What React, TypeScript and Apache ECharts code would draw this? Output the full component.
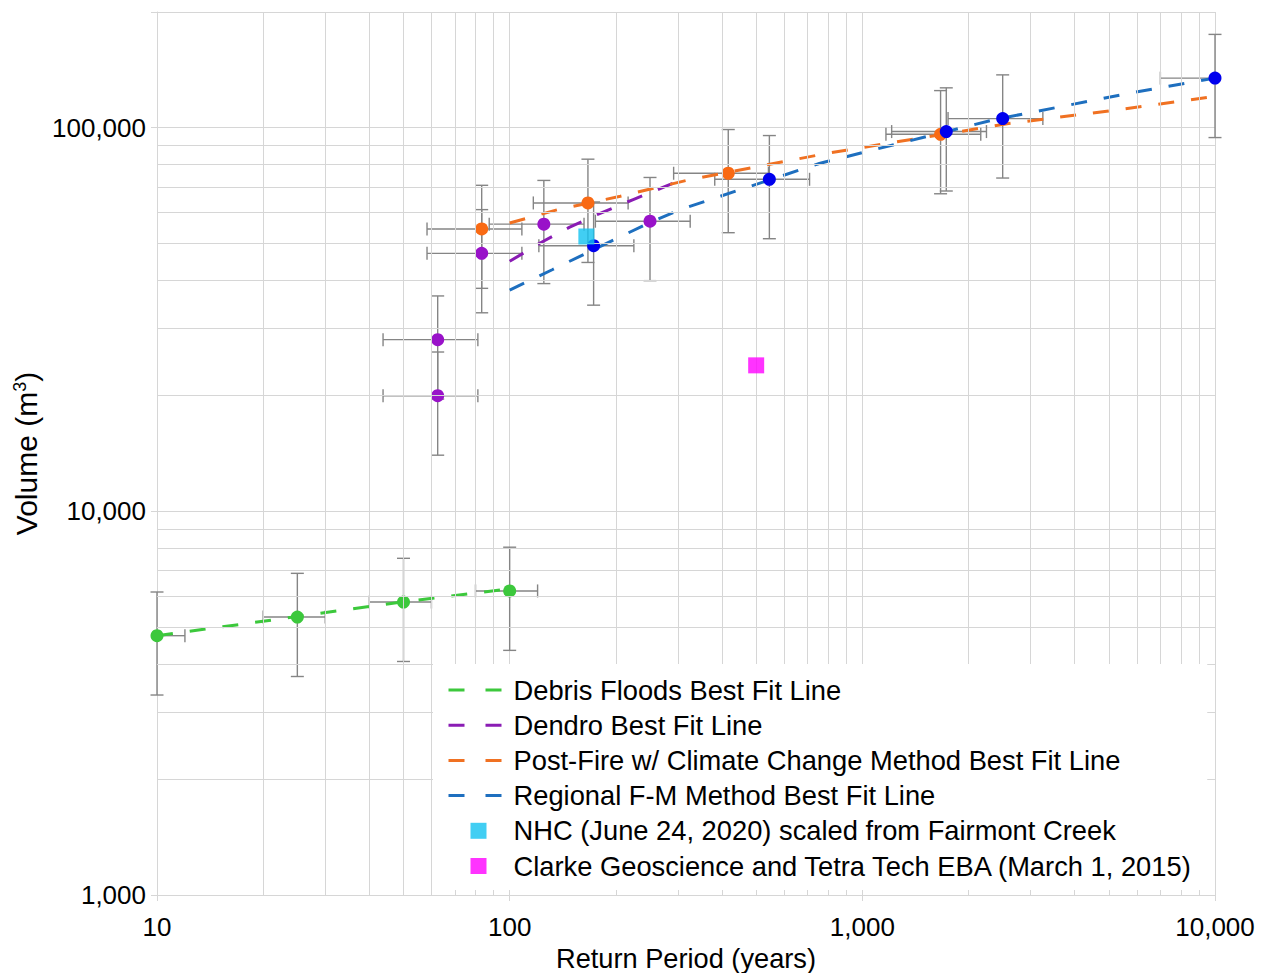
import React, { useEffect, useRef } from "react";
import * as echarts from "echarts";

const FONT = "'Liberation Sans', Arial, Helvetica, sans-serif";

// ---------- Debris floods (green) ----------
const debrisX = [10, 25, 50, 100];
const debrisY = [4740, 5300, 5800, 6200];
const debrisXLow = [8, 20, 40, 80];
const debrisXHigh = [12, 30, 60, 120];
const debrisYLow = [3320, 3710, 4060, 4340];
const debrisYHigh = [6160, 6890, 7540, 8060];
const debrisFitX = [10, 18, 50, 100];
const debrisFitY = [4740, 5100, 5810, 6280];

// ---------- Dendro (purple) ----------
const dendroX = [62.5, 62.5, 83.3, 125, 250];
const dendroY = [28000, 20000, 47000, 56000, 57000];
const dendroXLow = [43.75, 43.75, 58.3, 87.5, 175];
const dendroXHigh = [81.25, 81.25, 108.3, 162.5, 325];
const dendroYLow = [19600, 14000, 32900, 39200, 39900];
const dendroYHigh = [36400, 26000, 61100, 72800, 74100];
const dendroFitX = [100, 122, 148, 177, 224, 300];
const dendroFitY = [44800, 50000, 55000, 59300, 64900, 72400];

// ---------- Post-fire w/ climate change (orange) ----------
const postFireX = [83.3, 166.7, 416.7, 1666.7];
const postFireY = [54400, 63600, 76000, 96000];
const postFireXLow = [58.3, 116.7, 291.7, 1166.7];
const postFireXHigh = [108.3, 216.7, 541.7, 2166.7];
const postFireYLow = [38100, 44500, 53200, 67200];
const postFireYHigh = [70700, 82700, 98800, 124800];
const postFireFitX = [100, 137, 206, 325, 809, 2600, 5230, 10000];
const postFireFitY = [56400, 61100, 66200, 73200, 85900, 102400, 111000, 120500];

// ---------- Regional F-M (blue) ----------
const regionalX = [173, 545, 1730, 2500, 10000];
const regionalY = [49200, 73300, 97600, 105500, 134500];
const regionalXLow = [121, 381.5, 1211, 1750, 7000];
const regionalXHigh = [225, 708.5, 2249, 3250, 13000];
const regionalYLow = [34440, 51310, 68320, 73850, 94150];
const regionalYHigh = [63960, 95290, 126880, 137150, 174850];
const regionalFitX = [100, 132, 250, 304, 755, 2370, 5940, 10000];
const regionalFitY = [37700, 42600, 56600, 61100, 80600, 104900, 123600, 134500];

// ---------- Single observations ----------
const nhcPoint = [165, 52000];
const clarkePoint = [500, 24000];

const legendNames = [
  "Debris Floods Best Fit Line",
  "Dendro Best Fit Line",
  "Post-Fire w/ Climate Change Method Best Fit Line",
  "Regional F-M Method Best Fit Line",
  "NHC (June 24, 2020) scaled from Fairmont Creek",
  "Clarke Geoscience and Tetra Tech EBA (March 1, 2015)",
];

const xDecades = [10, 100, 1000];
const yDecades = [1000, 10000, 100000];
const minorMultipliers = [2, 3, 4, 5, 6, 7, 8, 9];

const GRID_COLOR = "#d6d6d6";
const ERR_COLOR = "#858585";

const zip = (a: number[], b: number[]) => a.map((v, i) => [v, b[i]]);
const zipErr = (
  x: number[], y: number[], xl: number[], xh: number[], yl: number[], yh: number[]
) => x.map((v, i) => [v, y[i], xl[i], xh[i], yl[i], yh[i]]);

const fmt = (v: number) => {
  const l = Math.log10(v);
  if (Math.abs(l - Math.round(l)) > 1e-6) return "";
  return String(Math.round(v)).replace(/\B(?=(\d{3})+(?!\d))/g, ",");
};

function errorBarSeries(data: number[][]) {
  return {
    type: "custom",
    silent: true,
    z: 2,
    data,
    encode: { x: 0, y: 1 },
    renderItem: (params: any, api: any) => {
      const cs = params.coordSys;
      const left = cs.x, right = cs.x + cs.width, top = cs.y, bottom = cs.y + cs.height;
      const x = api.value(0), y = api.value(1);
      const pl = api.coord([api.value(2), y]);
      const pr = api.coord([api.value(3), y]);
      const pb = api.coord([x, api.value(4)]);
      const pt = api.coord([x, api.value(5)]);
      const c = 6.5;
      const style = { stroke: ERR_COLOR, lineWidth: 1.4, fill: null };
      const children: any[] = [];
      const hx1 = Math.max(left, pl[0]);
      const hx2 = Math.min(right, pr[0]);
      children.push({ type: "line", shape: { x1: hx1, y1: pl[1], x2: hx2, y2: pr[1] }, style });
      if (pl[0] >= left - 0.5) children.push({ type: "line", shape: { x1: pl[0], y1: pl[1] - c, x2: pl[0], y2: pl[1] + c }, style });
      if (pr[0] <= right + 0.5) children.push({ type: "line", shape: { x1: pr[0], y1: pr[1] - c, x2: pr[0], y2: pr[1] + c }, style });
      const vy1 = Math.max(top, pt[1]);
      const vy2 = Math.min(bottom, pb[1]);
      children.push({ type: "line", shape: { x1: pt[0], y1: vy1, x2: pb[0], y2: vy2 }, style });
      if (pt[1] >= top - 0.5) children.push({ type: "line", shape: { x1: pt[0] - c, y1: pt[1], x2: pt[0] + c, y2: pt[1] }, style });
      if (pb[1] <= bottom + 0.5) children.push({ type: "line", shape: { x1: pb[0] - c, y1: pb[1], x2: pb[0] + c, y2: pb[1] }, style });
      return { type: "group", children };
    },
  };
}

function fitSeries(name: string, xs: number[], ys: number[], color: string) {
  return {
    type: "line",
    name,
    data: zip(xs, ys),
    symbol: "none",
    showSymbol: false,
    silent: true,
    z: 3,
    lineStyle: { color, width: 3, type: [16, 17] },
    itemStyle: { color },
  };
}

function pointSeries(name: string, xs: number[], ys: number[], color: string) {
  return {
    type: "scatter",
    name,
    data: zip(xs, ys),
    symbol: "circle",
    symbolSize: 13,
    silent: true,
    z: 4,
    itemStyle: { color, opacity: 1 },
  };
}

export default function App() {
  const ref = useRef<HTMLDivElement>(null);

  useEffect(() => {
    if (!ref.current) return;
    const chart = echarts.init(ref.current, undefined, { renderer: "svg" });

    const minorX: any[] = [];
    xDecades.forEach((d) => minorMultipliers.forEach((m) => minorX.push({ xAxis: d * m })));
    const minorY: any[] = [];
    yDecades.forEach((d) => minorMultipliers.forEach((m) => minorY.push({ yAxis: d * m })));

    const SQUARE = "path://M0,0L10,0L10,10L0,10Z";
    const legendData = legendNames.map((name, i) =>
      i < 4 ? { name, itemStyle: { opacity: 0 } } : { name, icon: SQUARE }
    );

    const option: any = {
      animation: false,
      backgroundColor: "#ffffff",
      textStyle: { fontFamily: FONT },
      grid: { left: 157, right: 52, top: 12, bottom: 78, containLabel: false, outerBoundsMode: "none" },
      xAxis: {
        type: "log",
        logBase: 10,
        min: 10,
        max: 10000,
        name: "Return Period (years)",
        nameLocation: "middle",
        nameGap: 50,
        nameTextStyle: { fontSize: 27.2, color: "#000", fontFamily: FONT },
        axisLine: { show: true, lineStyle: { color: GRID_COLOR, width: 1 } },
        axisTick: { show: true, length: 6, lineStyle: { color: GRID_COLOR } },
        axisLabel: { fontSize: 26, color: "#000", fontFamily: FONT, margin: 19, formatter: fmt },
        splitLine: { show: true, lineStyle: { color: GRID_COLOR, width: 1 } },
      },
      yAxis: {
        type: "log",
        logBase: 10,
        min: 1000,
        max: 200000,
        name: "Volume (m{sup|3})",
        nameLocation: "middle",
        nameGap: 112,
        nameRotate: 90,
        nameTextStyle: {
          fontSize: 30,
          lineHeight: 30,
          color: "#000",
          fontFamily: FONT,
          rich: {
            sup: { fontSize: 18, lineHeight: 18, verticalAlign: "top", color: "#000", fontFamily: FONT },
          },
        },
        axisLine: { show: true, lineStyle: { color: GRID_COLOR, width: 1 } },
        axisTick: { show: true, length: 6, lineStyle: { color: GRID_COLOR } },
        axisLabel: { fontSize: 26, color: "#000", fontFamily: FONT, margin: 11, formatter: fmt },
        splitLine: { show: true, lineStyle: { color: GRID_COLOR, width: 1 } },
      },
      legend: {
        data: legendData,
        orient: "vertical",
        left: 433,
        top: 664,
        backgroundColor: "#ffffff",
        padding: [11, 14, 9, 14],
        itemWidth: 60,
        itemHeight: 16,
        itemGap: 5.2,
        selectedMode: false,
        z: 10,
        textStyle: { fontSize: 27.3, color: "#000", fontFamily: FONT, lineHeight: 30 },
        lineStyle: { width: 3, type: [16, 21] },
      },
      series: [
        {
          type: "line",
          name: "minor-grid",
          data: [],
          silent: true,
          z: 1,
          markLine: {
            silent: true,
            symbol: ["none", "none"],
            label: { show: false },
            lineStyle: { color: GRID_COLOR, width: 1, type: "solid" },
            emphasis: { disabled: true },
            data: [...minorX, ...minorY],
          },
        },
        errorBarSeries(zipErr(debrisX, debrisY, debrisXLow, debrisXHigh, debrisYLow, debrisYHigh)),
        errorBarSeries(zipErr(dendroX, dendroY, dendroXLow, dendroXHigh, dendroYLow, dendroYHigh)),
        errorBarSeries(zipErr(postFireX, postFireY, postFireXLow, postFireXHigh, postFireYLow, postFireYHigh)),
        errorBarSeries(zipErr(regionalX, regionalY, regionalXLow, regionalXHigh, regionalYLow, regionalYHigh)),
        fitSeries(legendNames[0], debrisFitX, debrisFitY, "#3cc83c"),
        fitSeries(legendNames[1], dendroFitX, dendroFitY, "#8a1cb4"),
        fitSeries(legendNames[2], postFireFitX, postFireFitY, "#f07122"),
        fitSeries(legendNames[3], regionalFitX, regionalFitY, "#1e6fbf"),
        pointSeries("Debris Floods", debrisX, debrisY, "#3cc83c"),
        pointSeries("Dendro", dendroX, dendroY, "#9912c9"),
        pointSeries("Post-Fire w/ Climate Change Method", postFireX, postFireY, "#f96a14"),
        pointSeries("Regional F-M Method", regionalX, regionalY, "#0000ee"),
        {
          type: "scatter",
          name: legendNames[4],
          data: [nhcPoint],
          symbol: "rect",
          symbolSize: 16,
          silent: true,
          z: 5,
          itemStyle: { color: "#12c2f0" },
        },
        {
          type: "scatter",
          name: legendNames[5],
          data: [clarkePoint],
          symbol: "rect",
          symbolSize: 16,
          silent: true,
          z: 5,
          itemStyle: { color: "#ff00ff" },
        },
      ],
    };

    chart.setOption(option);
    return () => chart.dispose();
  }, []);

  return (
    <div
      ref={ref}
      style={{ position: "fixed", left: 0, top: 0, width: 1267, height: 973, background: "#fff" }}
    />
  );
}
